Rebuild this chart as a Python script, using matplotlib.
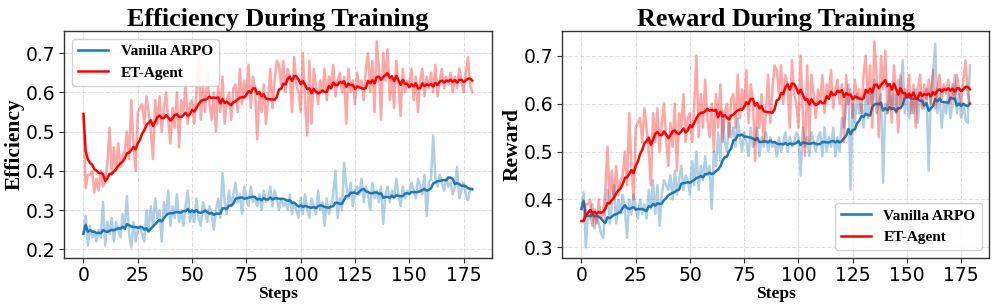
import matplotlib
matplotlib.use("Agg")
import matplotlib.pyplot as plt
import numpy as np
import pandas as pd

steps = list(range(180))

# ET-Agent raw values (efficiency panel); reward panel shares them except step 0
et_efficiency_raw = [
    0.545, 0.355, 0.39, 0.39, 0.40, 0.345, 0.38, 0.35, 0.40, 0.36,
    0.37, 0.42, 0.51, 0.39, 0.46, 0.40, 0.47, 0.41, 0.44, 0.45,
    0.50, 0.43, 0.58, 0.47, 0.40, 0.55, 0.56, 0.57, 0.52, 0.59,
    0.55, 0.50, 0.43, 0.58, 0.52, 0.59, 0.50, 0.56, 0.60, 0.53,
    0.47, 0.56, 0.51, 0.60, 0.46, 0.58, 0.55, 0.62, 0.52, 0.57,
    0.58, 0.52, 0.60, 0.70, 0.53, 0.62, 0.55, 0.65, 0.57, 0.53,
    0.60, 0.50, 0.62, 0.55, 0.64, 0.52, 0.58, 0.60, 0.53, 0.61,
    0.62, 0.55, 0.66, 0.57, 0.63, 0.59, 0.67, 0.56, 0.64, 0.61,
    0.48, 0.60, 0.55, 0.62, 0.52, 0.58, 0.66, 0.56, 0.63, 0.68,
    0.67, 0.62, 0.68, 0.60, 0.66, 0.64, 0.55, 0.69, 0.62, 0.60,
    0.55, 0.70, 0.58, 0.49, 0.68, 0.52, 0.66, 0.62, 0.57, 0.63,
    0.60, 0.66, 0.58, 0.64, 0.62, 0.67, 0.59, 0.63, 0.65, 0.60,
    0.64, 0.52, 0.66, 0.60, 0.63, 0.57, 0.65, 0.61, 0.63, 0.58,
    0.66, 0.70, 0.60, 0.68, 0.55, 0.73, 0.66, 0.53, 0.70, 0.63,
    0.71, 0.58, 0.64, 0.56, 0.68, 0.62, 0.54, 0.66, 0.60, 0.63,
    0.62, 0.66, 0.58, 0.64, 0.55, 0.63, 0.66, 0.59, 0.64, 0.61,
    0.65, 0.60, 0.67, 0.59, 0.63, 0.66, 0.61, 0.64, 0.62, 0.65,
    0.60, 0.64, 0.61, 0.66, 0.63, 0.60, 0.65, 0.69, 0.62, 0.60,
]
et_reward_first = 0.355
et_reward_raw = [et_reward_first] + et_efficiency_raw[1:]

arpo_efficiency_raw = [
    0.24, 0.285, 0.21, 0.26, 0.23, 0.245, 0.22, 0.25, 0.23, 0.32,
    0.21, 0.27, 0.24, 0.28, 0.22, 0.27, 0.25, 0.23, 0.29, 0.26,
    0.335, 0.24, 0.205, 0.27, 0.22, 0.25, 0.26, 0.24, 0.22, 0.30,
    0.25, 0.31, 0.26, 0.33, 0.28, 0.30, 0.22, 0.32, 0.29, 0.35,
    0.26, 0.31, 0.28, 0.34, 0.27, 0.30, 0.26, 0.31, 0.35, 0.27,
    0.30, 0.27, 0.33, 0.28, 0.26, 0.32, 0.30, 0.27, 0.31, 0.29,
    0.25, 0.30, 0.33, 0.28, 0.395, 0.32, 0.29, 0.35, 0.31, 0.34,
    0.37, 0.32, 0.34, 0.29, 0.36, 0.33, 0.31, 0.36, 0.32, 0.33,
    0.31, 0.34, 0.30, 0.35, 0.32, 0.33, 0.36, 0.31, 0.35, 0.33,
    0.30, 0.33, 0.31, 0.32, 0.30, 0.34, 0.29, 0.32, 0.30, 0.28,
    0.33, 0.29, 0.34, 0.30, 0.28, 0.33, 0.31, 0.29, 0.35, 0.30,
    0.32, 0.26, 0.33, 0.29, 0.31, 0.34, 0.40, 0.28, 0.33, 0.30,
    0.42, 0.36, 0.33, 0.37, 0.31, 0.35, 0.36, 0.34, 0.38, 0.32,
    0.36, 0.34, 0.30, 0.37, 0.33, 0.35, 0.32, 0.36, 0.265, 0.34,
    0.36, 0.32, 0.35, 0.33, 0.38, 0.34, 0.31, 0.36, 0.33, 0.35,
    0.34, 0.37, 0.35, 0.33, 0.38, 0.36, 0.34, 0.39, 0.285, 0.37,
    0.38, 0.49, 0.38, 0.36, 0.39, 0.37, 0.35, 0.38, 0.36, 0.37,
    0.34, 0.36, 0.41, 0.33, 0.35, 0.37, 0.34, 0.325, 0.35, 0.355,
]

arpo_reward_raw = [
    0.38, 0.415, 0.30, 0.37, 0.36, 0.39, 0.34, 0.37, 0.35, 0.33,
    0.32, 0.38, 0.42, 0.35, 0.39, 0.43, 0.35, 0.40, 0.37, 0.41,
    0.38, 0.32, 0.40, 0.37, 0.41, 0.38, 0.36, 0.40, 0.37, 0.39,
    0.36, 0.42, 0.38, 0.44, 0.37, 0.43, 0.345, 0.41, 0.44, 0.43,
    0.42, 0.45, 0.40, 0.46, 0.41, 0.44, 0.47, 0.42, 0.45, 0.44,
    0.41, 0.48, 0.43, 0.50, 0.42, 0.47, 0.44, 0.49, 0.45, 0.47,
    0.38, 0.50, 0.47, 0.54, 0.48, 0.585, 0.52, 0.50, 0.56, 0.53,
    0.55, 0.51, 0.57, 0.53, 0.50, 0.54, 0.52, 0.49, 0.55, 0.51,
    0.52, 0.55, 0.49, 0.53, 0.51, 0.54, 0.50, 0.53, 0.51, 0.52,
    0.49, 0.53, 0.50, 0.52, 0.54, 0.50, 0.53, 0.51, 0.52, 0.54,
    0.53, 0.45, 0.55, 0.51, 0.53, 0.49, 0.54, 0.52, 0.50, 0.53,
    0.54, 0.49, 0.55, 0.50, 0.53, 0.51, 0.55, 0.49, 0.53, 0.50,
    0.57, 0.55, 0.60, 0.64, 0.42, 0.60, 0.56, 0.62, 0.58, 0.60,
    0.55, 0.62, 0.57, 0.63, 0.60, 0.65, 0.58, 0.60, 0.62, 0.435,
    0.60, 0.58, 0.63, 0.59, 0.62, 0.58, 0.65, 0.60, 0.69, 0.58,
    0.62, 0.57, 0.61, 0.58, 0.63, 0.56, 0.62, 0.60, 0.59, 0.63,
    0.46, 0.62, 0.66, 0.725, 0.58, 0.62, 0.55, 0.60, 0.58, 0.62,
    0.57, 0.60, 0.66, 0.58, 0.62, 0.57, 0.60, 0.565, 0.56, 0.68,
]

series_names = ["Vanilla ARPO", "ET-Agent"]
series_colors = ["#1f77b4", "#ff0000"]
titles = ["Efficiency During Training", "Reward During Training"]
ylabels = ["Efficiency", "Reward"]
xlabel = "Steps"
window = 10

serif = ["Liberation Serif", "DejaVu Serif"]

fig = plt.figure(figsize=(9.96, 3.08), dpi=100)
axes = [fig.add_axes([0.0643, 0.1633, 0.4294, 0.736]),
        fig.add_axes([0.5643, 0.1633, 0.429, 0.736])]

panels = [
    (arpo_efficiency_raw, et_efficiency_raw, "upper left"),
    (arpo_reward_raw, et_reward_raw, "lower right"),
]

for ax, (arpo, et, loc), title, ylab in zip(axes, panels, titles, ylabels):
    for vals, name, col in zip([arpo, et], series_names, series_colors):
        s = pd.Series(vals, index=steps)
        ax.plot(steps, s.values, color=col, alpha=0.35, linewidth=1.8)
        ax.plot(steps, s.rolling(window, min_periods=1).mean().values,
                color=col, linewidth=1.8, label=name)
    ax.set_title(title, fontsize=18.8, fontweight="bold", family=serif, pad=3)
    ax.set_ylabel(ylab, fontsize=15.5, fontweight="bold", family=serif, labelpad=1)
    ax.set_xlabel(xlabel, fontsize=12.5, fontweight="bold", family=serif, labelpad=1)
    ax.set_xticks([0, 25, 50, 75, 100, 125, 150, 175])
    ax.tick_params(labelsize=13.5, length=3.5, color="#333333", pad=2.5)
    ax.grid(True, linestyle="--", color="#cccccc", alpha=0.6, linewidth=0.8)
    for sp in ax.spines.values():
        sp.set_color("#333333")
        sp.set_linewidth(1.0)
    leg = ax.legend(loc=loc, prop={"family": serif, "weight": "bold", "size": 11},
                    frameon=True, fancybox=True, framealpha=0.9, edgecolor="#cccccc")

fig.savefig("out.png", dpi=100)
